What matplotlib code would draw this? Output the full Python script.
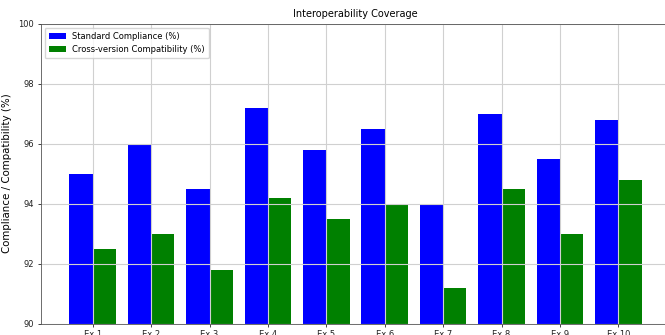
import matplotlib
matplotlib.use("Agg")
import matplotlib.pyplot as plt
import numpy as np

categories = ["Ex 1", "Ex 2", "Ex 3", "Ex 4", "Ex 5", "Ex 6", "Ex 7", "Ex 8", "Ex 9", "Ex 10"]
standard_compliance = [95.0, 96.0, 94.5, 97.2, 95.8, 96.5, 94.0, 97.0, 95.5, 96.8]
cross_version = [92.5, 93.0, 91.8, 94.2, 93.5, 94.0, 91.2, 94.5, 93.0, 94.8]

fig = plt.figure(figsize=(6.65, 3.35), dpi=100)
ax = fig.add_axes([40.5/665, 11.5/335, 629.5/665, 300/335])

x = np.arange(len(categories))
w = 0.4
ax.bar(x - w/2, standard_compliance, w, color="blue", label="Standard Compliance (%)")
ax.bar(x + w/2, cross_version, w, color="green", label="Cross-version Compatibility (%)")

ax.set_xlim(-0.894, 9.885)
ax.set_ylim(90, 100)
ax.set_xticks(x)
ax.set_xticklabels(categories)
ax.tick_params(labelsize=6, length=2.5, width=0.6, pad=2, colors="#222222")
ax.set_ylabel("Compliance / Compatibility (%)", fontsize=7.4, labelpad=5)
ax.set_title("Interoperability Coverage", fontsize=7.0, pad=5)
ax.grid(True, color="#d0d0d0", linewidth=0.8)
for s in ax.spines.values():
    s.set_linewidth(0.6)
    s.set_color("#555555")
ax.legend(loc="upper left", fontsize=6, frameon=True, handlelength=2, borderpad=0.5)

fig.savefig("out.png", dpi=100)
